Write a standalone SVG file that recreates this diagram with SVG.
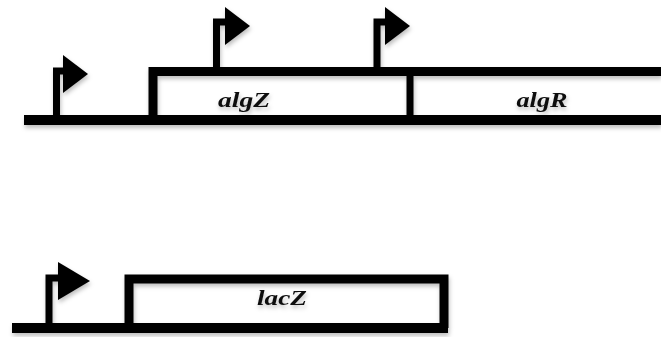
<svg xmlns="http://www.w3.org/2000/svg" width="661" height="337" viewBox="0 0 661 337">
<defs>
<filter id="sh" x="-20%" y="-20%" width="140%" height="160%">
<feDropShadow dx="1" dy="3" stdDeviation="2" flood-color="#000" flood-opacity="0.25"/>
</filter>
</defs>
<style>
.dna{stroke:#000;stroke-width:10;fill:none;stroke-linecap:butt}
.box{stroke:#000;stroke-width:9;fill:none;stroke-linejoin:miter}
.div{stroke:#000;stroke-width:7;fill:none}
.stem{stroke:#000;stroke-width:7;fill:none;stroke-linejoin:miter}
.tri{fill:#000}
.lbl{font-family:"Liberation Serif","Times New Roman",serif;font-style:italic;font-weight:bold;font-size:22px;fill:#111;text-anchor:middle}
</style>
<rect width="661" height="337" fill="#fff"/>
<g filter="url(#sh)">
<g id="backbone">
<line class="dna" x1="24" y1="120" x2="661" y2="120"/>
<line class="dna" x1="12" y1="328" x2="448" y2="328"/>
</g>
<g id="gene-algZ-algR">
<path class="box" d="M153,120 V71.5 H661"/>
<line class="div" x1="410" y1="71.5" x2="410" y2="120"/>
<text class="lbl" x="244" y="107" textLength="52" lengthAdjust="spacingAndGlyphs">algZ</text>
<text class="lbl" x="542" y="107" textLength="51" lengthAdjust="spacingAndGlyphs">algR</text>
</g>
<g id="promoter-1">
<path class="stem" d="M56.5,120 V71 H64"/>
<polygon class="tri" points="63,55 88,74 63,93"/>
</g>
<g id="promoter-2">
<path class="stem" d="M216.5,71.5 V22 H226"/>
<polygon class="tri" points="225,7 250,26 225,45"/>
</g>
<g id="promoter-3">
<path class="stem" d="M377,71.5 V22 H386"/>
<polygon class="tri" points="385,7 410,26 385,45"/>
</g>
<g id="gene-lacZ">
<path class="box" d="M129,328 V279 H444 V328"/>
<text class="lbl" x="282" y="305" textLength="50" lengthAdjust="spacingAndGlyphs">lacZ</text>
</g>
<g id="promoter-lac">
<path class="stem" d="M49,328 V278 H59"/>
<polygon class="tri" points="58,262 90,281 58,300"/>
</g>
</g>
</svg>
